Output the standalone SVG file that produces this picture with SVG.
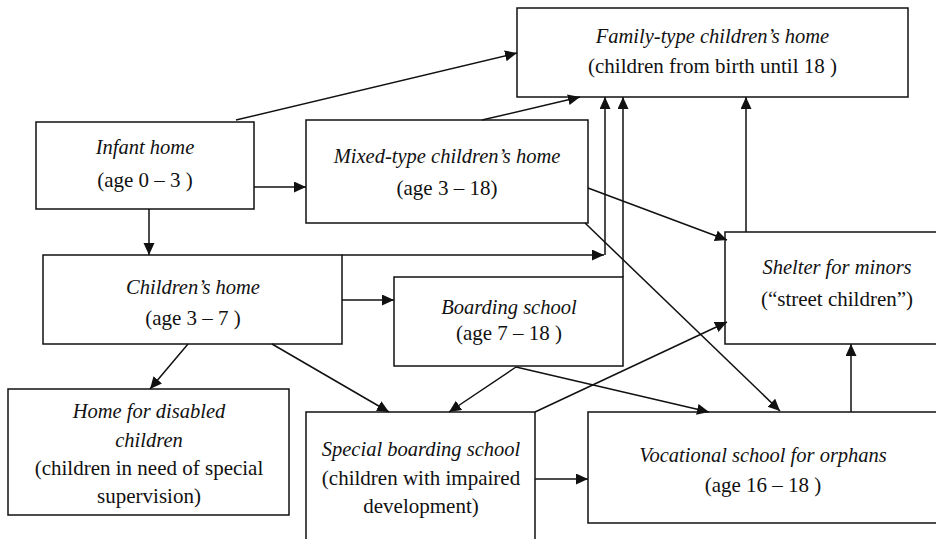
<svg xmlns="http://www.w3.org/2000/svg" width="936" height="539" viewBox="0 0 936 539">
<style>
.box{fill:#fff;stroke:#111;stroke-width:1.5}
text{font-family:'Liberation Serif','Times New Roman',serif;font-size:21px;fill:#111;text-anchor:middle}
.i{font-style:italic;font-size:20.5px}
.c line{stroke:#111;stroke-width:1.5;fill:none}
.a{marker-end:url(#ah)}
</style>
<defs>
<marker id="ah" markerUnits="userSpaceOnUse" markerWidth="13" markerHeight="12" refX="12" refY="5.5" orient="auto">
<path d="M0,0 L12,5.5 L0,11 Z" fill="#111"/>
</marker>
</defs>
<rect width="936" height="539" fill="#fff"/>
<g id="family">
<rect class="box" x="517" y="8" width="391" height="89"/>
<text class="i" x="712.5" y="43">Family-type children’s home</text>
<text x="712.5" y="73">(children from birth until 18 )</text>
</g>
<g id="infant">
<rect class="box" x="36" y="122" width="218" height="87"/>
<text class="i" x="145" y="154">Infant home</text>
<text x="145" y="187">(age 0 – 3 )</text>
</g>
<g id="mixed">
<rect class="box" x="306" y="120" width="282" height="103"/>
<text class="i" x="447" y="163">Mixed-type children’s home</text>
<text x="447" y="195">(age 3 – 18)</text>
</g>
<g id="childrens">
<rect class="box" x="43" y="255" width="299" height="89"/>
<text class="i" x="193" y="294">Children’s home</text>
<text x="193" y="325">(age 3 – 7 )</text>
</g>
<g id="boarding">
<rect class="box" x="394" y="277" width="229" height="89"/>
<text class="i" x="509" y="314">Boarding school</text>
<text x="509" y="340">(age 7 – 18 )</text>
</g>
<g id="shelter">
<rect class="box" x="725" y="232" width="230" height="112"/>
<text class="i" x="837" y="274">Shelter for minors</text>
<text x="837" y="306">(“street children”)</text>
</g>
<g id="disabled">
<rect class="box" x="8" y="389" width="281" height="126"/>
<text class="i" x="149" y="418">Home for disabled</text>
<text class="i" x="149" y="447">children</text>
<text x="149" y="475">(children in need of special</text>
<text x="149" y="503">supervision)</text>
</g>
<g id="special">
<rect class="box" x="306" y="412" width="229" height="140"/>
<text class="i" x="421" y="456">Special boarding school</text>
<text x="421" y="485">(children with impaired</text>
<text x="421" y="513">development)</text>
</g>
<g id="vocational">
<rect class="box" x="588" y="412" width="360" height="111"/>
<text class="i" x="763" y="462">Vocational school for orphans</text>
<text x="763" y="492">(age 16 – 18 )</text>
</g>
<g id="connectors" class="c">
<line class="a" x1="236" y1="120" x2="517" y2="53"/>
<line class="a" x1="254" y1="187" x2="306" y2="187"/>
<line class="a" x1="149" y1="209" x2="149" y2="255"/>
<line class="a" x1="482" y1="120" x2="580" y2="97"/>
<line class="a" x1="342" y1="255" x2="604" y2="255"/>
<line class="a" x1="605" y1="255" x2="605" y2="97"/>
<line class="a" x1="623" y1="277" x2="623" y2="97"/>
<line class="a" x1="588" y1="188" x2="727" y2="240"/>
<line class="a" x1="585" y1="223" x2="780" y2="411"/>
<line class="a" x1="746" y1="232" x2="746" y2="97"/>
<line class="a" x1="342" y1="300" x2="394" y2="300"/>
<line class="a" x1="188" y1="344" x2="150" y2="389"/>
<line class="a" x1="272" y1="344" x2="389" y2="412"/>
<line class="a" x1="516" y1="367" x2="449" y2="412"/>
<line class="a" x1="516" y1="367" x2="709" y2="412"/>
<line class="a" x1="535" y1="412" x2="727" y2="322"/>
<line class="a" x1="535" y1="479" x2="588" y2="479"/>
<line class="a" x1="851" y1="412" x2="851" y2="344"/>
</g>
</svg>
